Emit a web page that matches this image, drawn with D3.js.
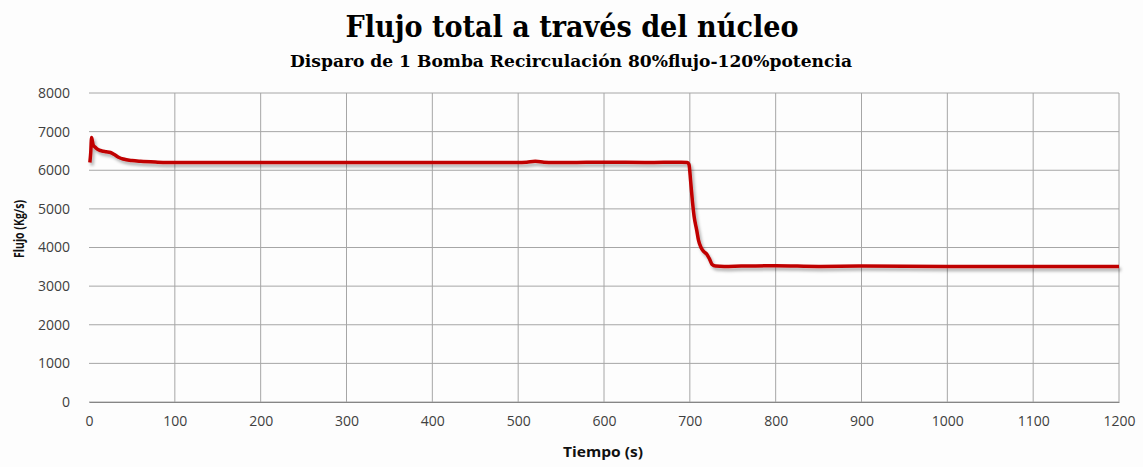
<!DOCTYPE html>
<html><head><meta charset="utf-8">
<script src="https://cdn.jsdelivr.net/npm/d3@7"></script>
<style>body{margin:0;background:#fdfdfd;} svg{display:block;}</style>
</head><body>
<svg id="c" width="1143" height="467"></svg>
<script>
const titleText = "Flujo total a través del núcleo";
const subtitleText = "Disparo  de 1 Bomba Recirculación  80%flujo-120%potencia";
const xLabel = "Tiempo (s)";
const yLabel = "Flujo  (Kg/s)";
const xTicks = [0,100,200,300,400,500,600,700,800,900,1000,1100,1200];
const yTicks = [0,1000,2000,3000,4000,5000,6000,7000,8000];
const time = [1,2,3,4,5,7,9,12,15,20,25,30,35,40,50,60,80,100,150,200,300,400,500,510,520,530,540,560,600,650,690,697,699,701,703,705,708,710,713,716,720,723,726,730,740,760,800,850,900,1000,1100,1200];
const flow = [6200,6450,6850,6750,6650,6600,6560,6520,6500,6480,6460,6400,6330,6290,6250,6230,6210,6200,6200,6200,6200,6200,6200,6210,6230,6210,6200,6200,6210,6200,6210,6200,6150,5700,5200,4800,4450,4200,4000,3900,3820,3700,3560,3520,3510,3520,3530,3510,3520,3510,3510,3510];

const svg = d3.select("#c");
const m = {l:89, r:1143-1119, t:93, b:467-402};
const W = 1143, H = 467;
const x = d3.scaleLinear().domain([0,1200]).range([m.l, W-m.r]);
const y = d3.scaleLinear().domain([0,8000]).range([H-m.b, m.t]);

const defs = svg.append("defs");
const f = defs.append("filter").attr("id","sh").attr("x","-5%").attr("y","-20%").attr("width","110%").attr("height","140%");
f.append("feDropShadow").attr("dx",2).attr("dy",3).attr("stdDeviation",1.5).attr("flood-color","#000").attr("flood-opacity",0.3);

// grid
svg.append("g").selectAll("line").data(yTicks).join("line")
  .attr("x1",x(0)).attr("x2",x(1200)).attr("y1",d=>y(d)).attr("y2",d=>y(d))
  .attr("stroke","#a6a6a6").attr("stroke-width",1);
svg.append("g").selectAll("line").data(xTicks.filter(d=>d>0)).join("line")
  .attr("x1",d=>x(d)).attr("x2",d=>x(d)).attr("y1",y(0)).attr("y2",y(8000))
  .attr("stroke","#a6a6a6").attr("stroke-width",1);

// axes
const xa = svg.append("g").attr("transform",`translate(0,${y(0)})`)
  .call(d3.axisBottom(x).tickValues(xTicks).tickSize(0).tickPadding(14).tickFormat(d3.format("d")));
xa.select(".domain").attr("stroke","#868686");
const ya = svg.append("g").attr("transform",`translate(${x(0)},0)`)
  .call(d3.axisLeft(y).tickValues(yTicks).tickSize(0).tickPadding(19).tickFormat(d3.format("d")));
ya.select(".domain").remove();
svg.selectAll(".tick text").attr("font-family","'Open Sans', sans-serif").attr("font-size",14).attr("fill","#404040");

// line
const line = d3.line().x((d,i)=>x(time[i])).y(d=>y(d)).curve(d3.curveMonotoneX);
svg.append("path").datum(flow).attr("d",line).attr("fill","none")
  .attr("stroke","#c00000").attr("stroke-width",3.5).attr("stroke-linejoin","round")
  .attr("filter","url(#sh)");

// titles
svg.append("text").attr("x",572).attr("y",37).attr("text-anchor","middle")
  .attr("font-family","'DejaVu Serif Condensed','DejaVu Serif',serif").attr("font-weight","bold")
  .attr("font-size",30).attr("textLength",453).attr("lengthAdjust","spacingAndGlyphs").text(titleText);
svg.append("text").attr("x",571).attr("y",67).attr("text-anchor","middle")
  .attr("font-family","'DejaVu Serif Condensed','DejaVu Serif',serif").attr("font-weight","bold")
  .attr("font-size",17).attr("textLength",562).attr("lengthAdjust","spacingAndGlyphs").text(subtitleText);

svg.append("text").attr("x",603).attr("y",457).attr("text-anchor","middle")
  .attr("font-family","'Open Sans', sans-serif").attr("font-weight","bold").attr("font-size",14)
  .attr("fill","#111").attr("textLength",80).attr("lengthAdjust","spacingAndGlyphs").text(xLabel);
svg.append("text").attr("transform",`translate(24,229) rotate(-90)`).attr("text-anchor","middle")
  .attr("font-family","'Open Sans', sans-serif").attr("font-weight","bold").attr("font-size",14)
  .attr("fill","#111").attr("textLength",58).attr("lengthAdjust","spacingAndGlyphs").text(yLabel);
</script>
</body></html>
